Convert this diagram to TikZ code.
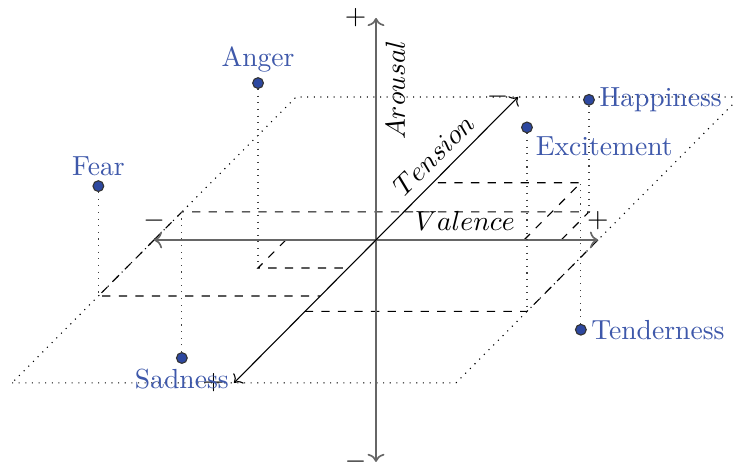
\documentclass[tikz,border=0pt]{standalone}
\usepackage{amsmath,amssymb}
\usetikzlibrary{arrows.meta,positioning,calc}
\definecolor{emoblue}{RGB}{62,88,170}
\definecolor{emofill}{RGB}{45,72,160}

\begin{document}
\begin{tikzpicture}[x={(2.826cm,0cm)},y={(0cm,2.826cm)},z={(1.808cm,1.820cm)},
    axis/.style={black!60,semithick,<->},
    taxis/.style={black,thin,<->},
    proj/.style={dashed,thin},
    drop/.style={dotted,black!75},
    emodot/.style={circle,draw=black!80,fill=emofill,inner sep=0pt,minimum size=3.9pt},
    emolabel/.style={text=emoblue,font=\normalsize,inner sep=1.5pt}]
      \useasboundingbox (-4.787cm,-2.864cm) rectangle (4.545cm,3.055cm);
      % Valence-tension plane
      \draw[dotted] (-1,0,-1) -- (1,0,-1) -- (1,0,1) -- (-1,0,1) -- cycle;
      % Axis ends
      \coordinate (vneg) at (-1,0,0);
      \coordinate (vpos) at (1,0,0);
      \coordinate (aneg) at (0,-1,0);
      \coordinate (apos) at (0,1,0);
      \coordinate (tpos) at (0,0,-1);
      \coordinate (tneg) at (0,0,1);
      % Projections onto the plane
      \foreach \emo/\v/\t in {Anger/-0.406/-0.196, Fear/-1/-0.392, Sadness/-1/0.196,
                              Happiness/0.834/0.196, Excitement/1/-0.5, Tenderness/0.667/0.4}{
        \coordinate (\emo-p) at (\v,0,\t);
        \coordinate (\emo-v) at (\v,0,0);
        \coordinate (\emo-t) at (0,0,\t);
        \draw[proj] (\emo-v) -- (\emo-p) -- (\emo-t);
      }
      % Axes
      \draw[axis] (vneg) -- (vpos);
      \draw[axis] (aneg) -- (apos);
      \draw[taxis] (tpos) -- (tneg);
      \node[above] (vminus) at (vneg) {$-$};
      \node[above] (vplus) at (vpos) {$+$};
      \node[left] (aplus) at (apos) {$+$};
      \node[left] (aminus) at (aneg) {$-$};
      \node[left] (tminus) at (tneg) {$-$};
      \node[left] (tplus) at (tpos) {$+$};
      \node[above] (vlabel) at (0.4,0,0) {$Valence$};
      \node[rotate=90,anchor=north] (alabel) at (0,0.675,0) {$Arousal$};
      \node[rotate=45,anchor=south] (tlabel) at (0,0,0.5) {$Tension$};
      % Emotions
      \foreach \emo/\v/\a/\t/\side in {Anger/-0.406/0.833/-0.196/above, Fear/-1/0.495/-0.392/above,
                                       Sadness/-1/-0.658/0.196/below, Happiness/0.834/0.505/0.196/right,
                                       Excitement/1/0.829/-0.5/below right, Tenderness/0.667/-0.662/0.4/right}{
        \node[emodot,label={[emolabel]\side:\emo}] (\emo) at (\v,\a,\t) {};
        \draw[drop] (\emo) -- (\emo-p);
      }
    \end{tikzpicture}
\end{document}
